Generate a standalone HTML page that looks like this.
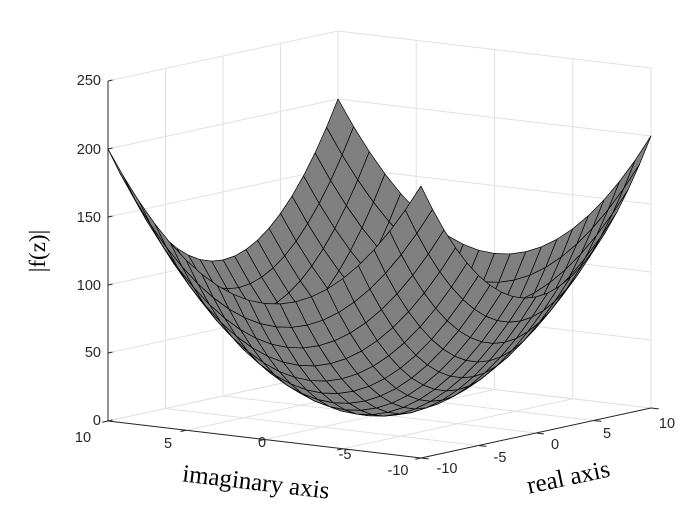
<!DOCTYPE html>
<html><head><meta charset="utf-8"><style>
html,body{margin:0;padding:0;background:#fff;}
svg{display:block;}
text{font-family:"Liberation Sans",Arial,sans-serif;font-size:14.5px;fill:#262626;}
.ser{font-family:"Liberation Serif","Times New Roman",serif;font-size:25px;fill:#000;}
</style></head><body>
<svg id="s" width="697" height="517" viewBox="0 0 697 517" xmlns="http://www.w3.org/2000/svg">
<g id="grid" stroke="#e0e0e0" stroke-width="1" fill="none"></g>
<g id="axes" stroke="#262626" stroke-width="1" fill="none"></g>
<g id="surf" stroke="#000" stroke-width="0.7" fill="#808080" stroke-linejoin="round"></g>
<text x="101" y="85" text-anchor="end">250</text>
<text x="101" y="154" text-anchor="end">200</text>
<text x="101" y="222" text-anchor="end">150</text>
<text x="101" y="290" text-anchor="end">100</text>
<text x="101" y="357" text-anchor="end">50</text>
<text x="101" y="425" text-anchor="end">0</text>
<text x="83" y="442" text-anchor="middle">10</text>
<text x="168" y="448" text-anchor="middle">5</text>
<text x="262" y="447" text-anchor="middle">0</text>
<text x="345" y="459" text-anchor="middle">-5</text>
<text x="398" y="475" text-anchor="middle">-10</text>
<text x="447" y="473" text-anchor="middle">-10</text>
<text x="500" y="462" text-anchor="middle">-5</text>
<text x="555" y="449" text-anchor="middle">0</text>
<text x="607" y="438" text-anchor="middle">5</text>
<text x="667" y="428" text-anchor="middle">10</text>
<text class="ser" transform="translate(45,251) rotate(-90)" text-anchor="middle" style="font-size:23px">|f(z)|</text>
<text class="ser" transform="translate(255,490) rotate(6.8)" text-anchor="middle">imaginary axis</text>
<text class="ser" transform="translate(570,485) rotate(-12)" text-anchor="middle">real axis</text>
</svg>
<script>
var C=[379.5,414.5],er=[11.5,-2.5],ei=[-15.65,-1.85],ez=-1.36;
function P(r,i,z){return [C[0]+r*er[0]+i*ei[0],C[1]+r*er[1]+i*ei[1]+z*ez];}
function f(p){return p[0].toFixed(2)+","+p[1].toFixed(2);}
var NS="http://www.w3.org/2000/svg";
function line(g,a,b){var l=document.createElementNS(NS,"line");l.setAttribute("x1",a[0]);l.setAttribute("y1",a[1]);l.setAttribute("x2",b[0]);l.setAttribute("y2",b[1]);g.appendChild(l);}
var grid=document.getElementById("grid"),ax=document.getElementById("axes"),surf=document.getElementById("surf");
var t=[-10,-5,0,5,10],zt=[0,50,100,150,200,250];
t.forEach(function(v){
 line(grid,P(v,-10,0),P(v,10,0));
 line(grid,P(-10,v,0),P(10,v,0));
 line(grid,P(v,10,0),P(v,10,250));
 line(grid,P(10,v,0),P(10,v,250));
});
zt.forEach(function(z){line(grid,P(-10,10,z),P(10,10,z));line(grid,P(10,10,z),P(10,-10,z));});
line(ax,P(-10,10,0),P(-10,10,250));
line(ax,P(-10,10,0),P(-10,-10,0));
line(ax,P(-10,-10,0),P(10,-10,0));
zt.forEach(function(z){line(ax,P(-10,10,z),P(-9.6,10,z));});
t.forEach(function(v){var a=P(-10,v,0);line(ax,a,P(-10.5,v,0));var b=P(v,-10,0);line(ax,b,P(v,-10.5,0));});
var q=[];
for(var r=-10;r<10;r++)for(var i=-10;i<10;i++)q.push([r,i]);
q.sort(function(a,b){return (b[0]+b[1])-(a[0]+a[1]);});
function Z(r,i){return r*r+i*i;}
q.forEach(function(c){var r=c[0],i=c[1];
 var pts=[P(r,i,Z(r,i)),P(r+1,i,Z(r+1,i)),P(r+1,i+1,Z(r+1,i+1)),P(r,i+1,Z(r,i+1))];
 var p=document.createElementNS(NS,"polygon");p.setAttribute("points",pts.map(f).join(" "));surf.appendChild(p);});
</script>
</body></html>
